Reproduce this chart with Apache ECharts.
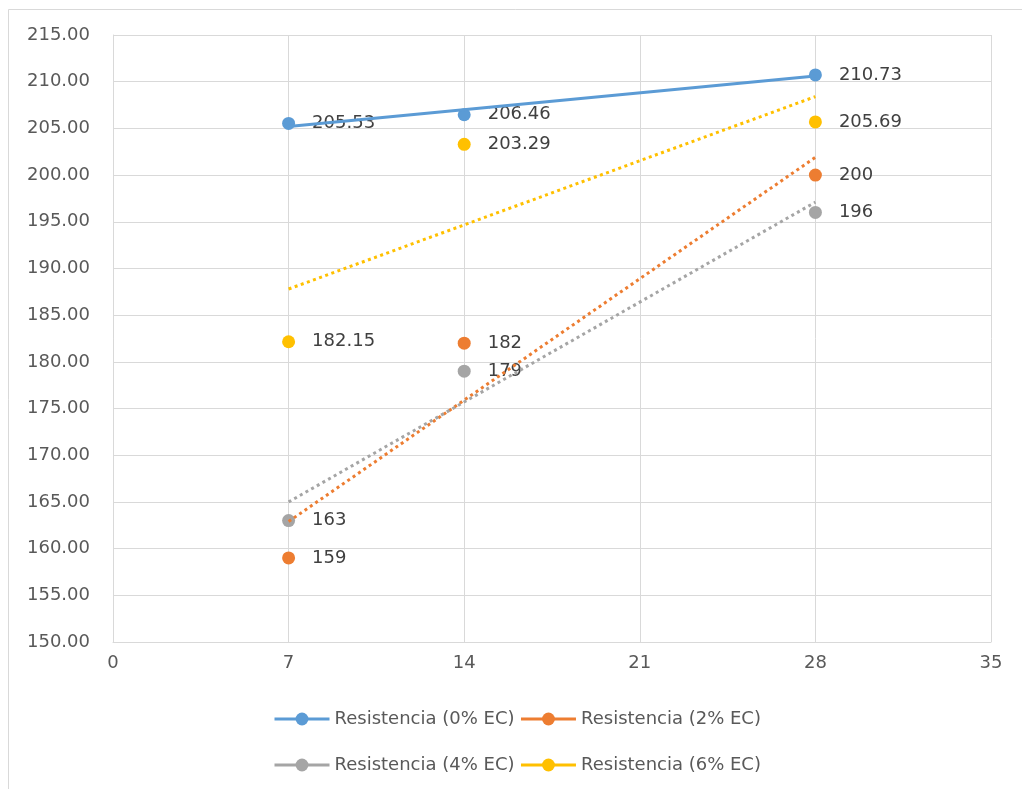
<!DOCTYPE html>
<html>
<head>
<meta charset="utf-8">
<script src="https://cdn.jsdelivr.net/npm/echarts@6/dist/echarts.min.js"></script>
<style>
html,body{margin:0;padding:0;background:#fff;}
#chart{width:1022px;height:789px;}
</style>
</head>
<body>
<div id="chart"></div>
<script>
// Data
const days = [7, 14, 28];
const ec0 = [205.53, 206.46, 210.73];
const ec2 = [159, 182, 200];
const ec4 = [163, 179, 196];
const ec6 = [182.15, 203.29, 205.69];
const seriesNames = ['Resistencia (0% EC)', 'Resistencia (2% EC)', 'Resistencia (4% EC)', 'Resistencia (6% EC)'];
// Linear trendline end values (at x=7 and x=28)
const trendX = [7, 28];
const trend0 = [205.2, 210.6];
const trend2 = [162.9, 201.9];
const trend4 = [165.0, 197.1];
const trend6 = [187.8, 208.4];
const xTicks = {min: 0, max: 35, interval: 7};
const yTicks = {min: 150, max: 215, interval: 5};

const colors = ['#5B9BD5', '#ED7D31', '#A5A5A5', '#FFC000'];
const FONT = 'DejaVu Sans';
const TXT = '#595959';
const GRIDC = '#d9d9d9';

const pts = (xs, ys) => xs.map((x, i) => [x, ys[i]]);

const dataSets = [ec0, ec2, ec4, ec6];
const trends = [trend0, trend2, trend4, trend6];

const series = [];
trends.forEach((t, i) => {
  series.push({
    name: 'trend' + i,
    type: 'line',
    data: pts(trendX, t),
    symbol: 'none',
    silent: true,
    z: 3,
    lineStyle: i === 0
      ? {color: colors[i], width: 3, type: 'solid'}
      : {color: colors[i], width: 3, type: [3, 3.5]}
  });
});
dataSets.forEach((d, i) => {
  series.push({
    name: seriesNames[i],
    type: 'line',
    data: pts(days, d),
    symbol: 'circle',
    symbolSize: 13,
    showAllSymbol: true,
    z: 2,
    itemStyle: {color: colors[i]},
    lineStyle: {color: colors[i], width: 3, opacity: 0},
    label: {
      show: true,
      position: 'right',
      distance: 17,
      color: '#404040',
      fontFamily: FONT,
      fontSize: 18,
      formatter: p => String(p.value[1])
    }
  });
});

const legendCommon = {
  left: 268,
  itemWidth: 55,
  itemHeight: 16,
  itemGap: 5,
  textStyle: {color: TXT, fontFamily: FONT, fontSize: 18},
  lineStyle: {opacity: 1, width: 3},
  selectedMode: false
};

const option = {
  animation: false,
  backgroundColor: '#fff',
  textStyle: {fontFamily: FONT},
  graphic: [{
    type: 'rect',
    shape: {x: 8.5, y: 9.5, width: 1200, height: 1000},
    style: {fill: 'none', stroke: GRIDC, lineWidth: 1},
    silent: true,
    z: -10
  }],
  grid: {left: 113, right: 31, top: 35, bottom: 147, containLabel: false, outerBoundsMode: 'none'},
  legend: [
    Object.assign({}, legendCommon, {top: 705, data: [seriesNames[0], seriesNames[1]]}),
    Object.assign({}, legendCommon, {top: 751, data: [seriesNames[2], seriesNames[3]]})
  ],
  xAxis: {
    type: 'value',
    min: xTicks.min, max: xTicks.max, interval: xTicks.interval,
    axisLine: {show: true, lineStyle: {color: GRIDC, width: 1}},
    axisTick: {show: false},
    splitLine: {show: true, lineStyle: {color: GRIDC, width: 1}},
    axisLabel: {color: TXT, fontFamily: FONT, fontSize: 18, margin: 12}
  },
  yAxis: {
    type: 'value',
    min: yTicks.min, max: yTicks.max, interval: yTicks.interval,
    axisLine: {show: true, lineStyle: {color: GRIDC, width: 1}},
    axisTick: {show: false},
    splitLine: {show: true, lineStyle: {color: GRIDC, width: 1}},
    axisLabel: {color: TXT, fontFamily: FONT, fontSize: 18, margin: 23, formatter: v => v.toFixed(2)}
  },
  series: series
};

const chart = echarts.init(document.getElementById('chart'), null, {renderer: 'canvas'});
chart.setOption(option);
</script>
</body>
</html>
